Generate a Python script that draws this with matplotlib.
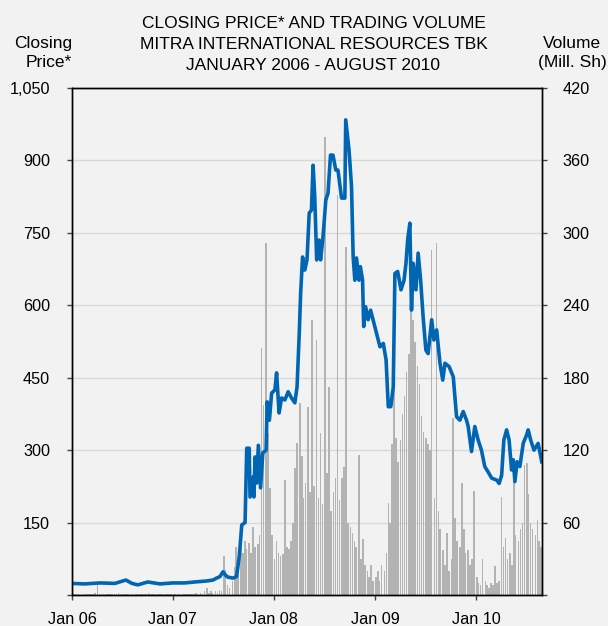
import matplotlib
matplotlib.use("Agg")
import matplotlib.pyplot as plt
import numpy as np
import pandas as pd

# closing price
price_dates = [
 "2006-01-02", "2006-02-17", "2006-04-12", "2006-06-05", "2006-07-15", "2006-08-06",
 "2006-08-27", "2006-10-02", "2006-11-15", "2007-01-01", "2007-02-13", "2007-03-21",
 "2007-05-03", "2007-05-26", "2007-06-08", "2007-06-20", "2007-07-01", "2007-07-12",
 "2007-07-19", "2007-08-06", "2007-08-19", "2007-08-29", "2007-09-07", "2007-09-19",
 "2007-09-25", "2007-10-04", "2007-10-07", "2007-10-19", "2007-10-21", "2007-10-25",
 "2007-10-31", "2007-11-06", "2007-11-14", "2007-11-22", "2007-12-04", "2007-12-08",
 "2007-12-16", "2007-12-24", "2008-01-05", "2008-01-11", "2008-01-20", "2008-01-29",
 "2008-02-10", "2008-02-22", "2008-03-05", "2008-03-17", "2008-03-25", "2008-04-02",
 "2008-04-07", "2008-04-14", "2008-04-22", "2008-04-30", "2008-05-08", "2008-05-16",
 "2008-05-22", "2008-05-28", "2008-06-04", "2008-06-13", "2008-06-18", "2008-06-27",
 "2008-07-07", "2008-07-15", "2008-07-24", "2008-08-02", "2008-08-12", "2008-08-20",
 "2008-09-02", "2008-09-14", "2008-09-17", "2008-09-29", "2008-10-08", "2008-10-14",
 "2008-10-20", "2008-10-26", "2008-11-04", "2008-11-09", "2008-11-17", "2008-11-21",
 "2008-11-28", "2008-12-07", "2008-12-16", "2008-12-25", "2009-01-07", "2009-01-19",
 "2009-01-31", "2009-02-10", "2009-02-18", "2009-02-27", "2009-03-08", "2009-03-14",
 "2009-03-24", "2009-04-05", "2009-04-16", "2009-04-23", "2009-04-29", "2009-05-07",
 "2009-05-13", "2009-05-19", "2009-05-29", "2009-06-06", "2009-06-15", "2009-06-24",
 "2009-07-04", "2009-07-12", "2009-07-25", "2009-08-02", "2009-08-12", "2009-08-24",
 "2009-09-03", "2009-09-11", "2009-09-26", "2009-10-11", "2009-10-23", "2009-11-04",
 "2009-11-16", "2009-11-28", "2009-12-04", "2009-12-16", "2009-12-28", "2010-01-09",
 "2010-01-21", "2010-02-02", "2010-02-14", "2010-02-27", "2010-03-17", "2010-03-26",
 "2010-04-04", "2010-04-12", "2010-04-22", "2010-05-01", "2010-05-10", "2010-05-16",
 "2010-05-22", "2010-05-30", "2010-06-09", "2010-06-21", "2010-07-03", "2010-07-09",
 "2010-07-18", "2010-07-30", "2010-08-14", "2010-08-27",
]
price_vals = [
 24, 23, 25, 24, 31, 24, 21, 27, 23, 25, 25, 27,
 29, 31, 35, 38, 48, 40, 37, 35, 38, 80, 145, 150,
 304, 304, 203, 245, 203, 286, 232, 310, 222, 294, 300, 400,
 362, 418, 425, 460, 377, 408, 404, 421, 408, 398, 431, 542,
 625, 700, 673, 694, 791, 797, 890, 825, 694, 735, 694, 742,
 818, 832, 911, 911, 880, 880, 822, 822, 984, 922, 846, 700,
 652, 698, 652, 680, 652, 556, 597, 570, 590, 570, 542, 514,
 521, 487, 390, 390, 431, 666, 670, 632, 652, 687, 735, 770,
 590, 687, 632, 708, 652, 576, 507, 500, 570, 528, 549, 480,
 445, 480, 473, 452, 369, 362, 380, 362, 349, 297, 349, 321,
 300, 266, 255, 242, 238, 231, 248, 321, 342, 321, 259, 280,
 235, 276, 266, 314, 331, 342, 321, 300, 314, 276,
]

# trading volume (mill. shares), four readings per month, Jan 2006 - Aug 2010
vol_2006 = [1, .5, 1, .5,  .5, 1, .5, 1,  1, .5, 1, 2,  8, 1, .5, 1,
            1, .5, 1, .5,  .5, 1, 2, 1,  1, .5, 1, .5,  .5, 1, .5, 1,
            1, .5, 1, .5,  2, 1, .5, 1,  .5, 1, .5, 1,  1, .5, 1, .5]
vol_2007 = [1, 1, .5, 1,  .5, 1, .5, 1,  1, .5, 1, 2,  1, 2, 1, 3,
            6, 2, 3, 2,  3, 2, 4, 3,  32, 21, 8, 6,  12, 23, 40, 30,
            51, 35, 45, 38,  43, 35, 56, 40,  42, 50, 205, 157,  292, 134, 89, 50]
vol_2008 = [30, 45, 35, 32,  34, 95, 40, 38,  45, 60, 105, 126,  159, 115, 80, 93,
            156, 85, 228, 90,  211, 80, 134, 75,  379, 101, 172, 70,  85, 97, 331, 79,
            97, 106, 288, 60,  56, 51, 45, 40,  116, 30, 46, 25,  20, 15, 25, 12]
vol_2009 = [15, 20, 12, 25,  20, 35, 76, 60,  125, 172, 130, 110,  128, 150, 165, 185,
            200, 239, 228, 210,  190, 175, 148, 135,  130, 125, 120, 286,  80, 292, 70, 55,
            37, 25, 51, 20,  30, 147, 64, 45,  40, 93, 55, 35,  37, 25, 30, 86]
vol_2010 = [15, 10, 8, 30,  12, 8, 6, 10,  8, 24, 10, 12,  81, 40, 47, 30,
            35, 25, 95, 50,  45, 55, 60, 108,  109, 84, 60, 55,  50, 62, 45, 40]

year_ticks = ["2006-01-01", "2007-01-01", "2008-01-01", "2009-01-01", "2010-01-01"]
year_labels = ["Jan 06", "Jan 07", "Jan 08", "Jan 09", "Jan 10"]
price_ticks = [0, 150, 300, 450, 600, 750, 900, 1050]
price_labels = ["", "150", "300", "450", "600", "750", "900", "1,050"]
vol_ticks = [0, 60, 120, 180, 240, 300, 360, 420]
vol_labels = ["", "60", "120", "180", "240", "300", "360", "420"]

volume = vol_2006 + vol_2007 + vol_2008 + vol_2009 + vol_2010
months = pd.date_range("2006-01-01", "2010-08-01", freq="MS")
vol_dates = [m + pd.Timedelta(days=d) for m in months for d in (3, 10, 17, 24)]

plt.rcParams["font.family"] = ["Liberation Sans", "DejaVu Sans"]
plt.rcParams["font.size"] = 11.7

W, H = 608, 626
bg = "#f2f2f2"
fig = plt.figure(figsize=(W / 100, H / 100), dpi=100, facecolor=bg)
ax = fig.add_axes([72 / W, 1 - 595 / H, 470 / W, 507 / H])
axv = ax.twinx()

# volume on the right axis, drawn underneath the price line
axv.bar(vol_dates, volume, width=5.5, color="#b3b3b3", edgecolor="none")
axv.set_ylim(0, 420)
axv.set_yticks(vol_ticks)
axv.set_yticklabels(vol_labels)
axv.grid(axis="y", color="#d9d9d9", lw=1)
axv.set_axisbelow(True)

ax.plot(pd.to_datetime(price_dates), price_vals, color="#0066b3", lw=2.6,
        solid_joinstyle="round")
ax.set_ylim(0, 1050)
ax.set_yticks(price_ticks)
ax.set_yticklabels(price_labels)
ax.set_xticks(pd.to_datetime(year_ticks))
ax.set_xticklabels(year_labels)
ax.set_xlim(pd.Timestamp("2006-01-01"), pd.Timestamp("2010-08-28"))

ax.set_zorder(axv.get_zorder() + 1)
ax.patch.set_visible(False)
axv.patch.set_visible(False)

for a in (ax, axv):
    for s in a.spines.values():
        s.set_color("black")
        s.set_linewidth(1)
    a.tick_params(length=3.8, width=1, color="#444444")
ax.tick_params(axis="y", pad=12)
ax.tick_params(axis="x", pad=8.5)
axv.tick_params(axis="y", pad=11)

def ftxt(x, y, s, ha):
    fig.text(x / W, 1 - y / H, s, ha=ha, va="baseline", fontsize=12.5)

ftxt(313.5, 28.3, "CLOSING PRICE* AND TRADING VOLUME", "center")
ftxt(313.5, 49.3, "MITRA INTERNATIONAL RESOURCES TBK", "center")
ftxt(313.5, 70, "JANUARY 2006 - AUGUST 2010", "center")
ftxt(72, 48.3, "Closing", "right")
ftxt(72, 67, "Price*", "right")
ftxt(572, 48.3, "Volume", "center")
ftxt(572, 67, "(Mill. Sh)", "center")

fig.savefig("out.png", dpi=100, facecolor=bg)
